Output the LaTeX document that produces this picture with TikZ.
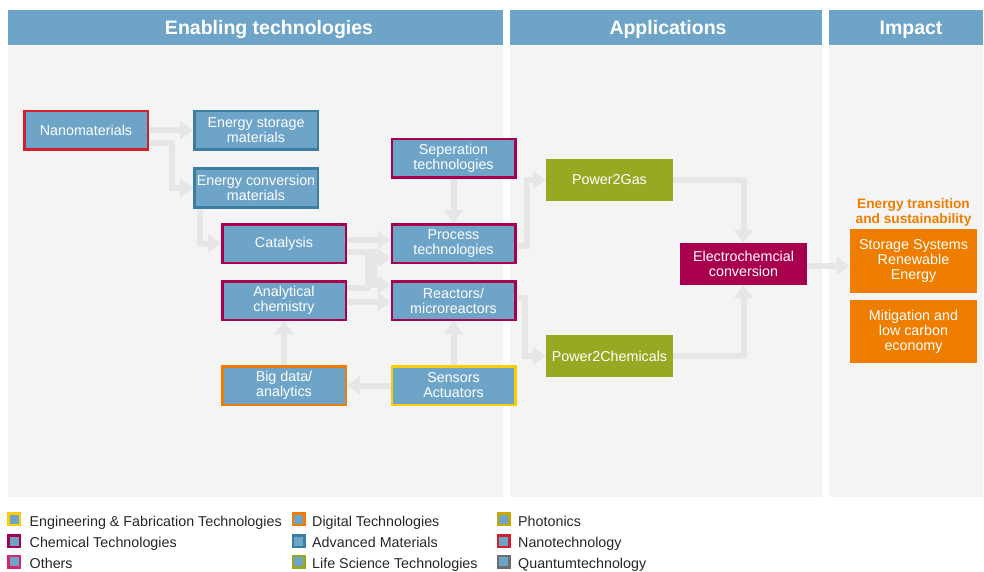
\documentclass[tikz,border=0pt]{standalone}
\usepackage{fontspec}
\setmainfont{Liberation Sans}
\usetikzlibrary{arrows.meta}
\definecolor{techblue}{HTML}{6EA4C7}
\definecolor{panelgray}{HTML}{F4F4F4}
\definecolor{flowgray}{HTML}{E6E6E6}
\definecolor{advmat}{HTML}{3B7EA1}
\definecolor{chemtech}{HTML}{A8004F}
\definecolor{others}{HTML}{D62470}
\definecolor{digital}{HTML}{EE7D00}
\definecolor{engfab}{HTML}{FFCC00}
\definecolor{lifesci}{HTML}{97A823}
\definecolor{photonics}{HTML}{C9A700}
\definecolor{nanotech}{HTML}{D2202C}
\definecolor{quantum}{HTML}{6D6E71}
\begin{document}
\begin{tikzpicture}[x=1pt, y=-1pt, font=\fontsize{14.3}{15}\selectfont,
  tech node/.style={rectangle,draw,line width=2.5pt,fill=techblue,text=white,align=center,minimum width=123.5pt,minimum height=38.5pt,inner sep=0pt},
  app node/.style={rectangle,fill=lifesci,text=white,align=center,minimum width=127pt,minimum height=42pt,inner sep=0pt},
  impact node/.style={rectangle,fill=digital,text=white,align=center,minimum width=127pt,minimum height=63pt,inner sep=0pt},
  head/.style={anchor=base,text=white,font=\fontsize{19.5}{20}\selectfont\bfseries},
  key/.style={rectangle,draw,line width=2.5pt,fill=techblue,minimum size=11.5pt,inner sep=0pt},
  flow/.style={draw=flowgray,line width=6pt,-{Triangle[width=18pt,length=13pt]}}]%
\useasboundingbox (0,0) rectangle (984,572);
\fill[techblue] (8,10) rectangle (503,45);
\fill[techblue] (510,10) rectangle (822,45);
\fill[techblue] (829,10) rectangle (983,45);
\fill[panelgray] (8,46) rectangle (503,497);
\fill[panelgray] (510,46) rectangle (822,497);
\fill[panelgray] (829,46) rectangle (983,497);
\node[head] (h1) at (269,35) {Enabling technologies};
\node[head] (h2) at (668,35) {Applications};
\node[head] (h3) at (911,35) {Impact};
\begin{scope}[every node/.style={tech node}]
\node[draw=nanotech] (nano) at (86,130.5) {Nanomaterials};
\node[draw=advmat] (estor) at (256,130.5) {Energy storage\\materials};
\node[draw=advmat] (econv) at (256,188) {Energy conversion\\materials};
\node[draw=chemtech] (cata) at (284,243.5) {Catalysis};
\node[draw=chemtech] (anal) at (284,300.5) {Analytical\\chemistry};
\node[draw=digital] (bigd) at (284,385.5) {Big data/\\analytics};
\node[draw=chemtech] (sep) at (453.5,158.5) {Seperation\\technologies};
\node[draw=chemtech] (proc) at (453.5,243.5) {Process\\technologies};
\node[draw=chemtech] (reac) at (453.5,300.5) {Reactors/\\microreactors};
\node[draw=engfab] (sens) at (453.5,385.5) {Sensors\\Actuators};
\end{scope}
\node[app node] (p2g) at (609.5,180) {Power2Gas};
\node[app node] (p2c) at (609.5,356) {Power2Chemicals};
\node[app node,fill=chemtech] (elec) at (743.5,264) {Electrochemcial\\conversion};
\node[text=digital,align=center,font=\fontsize{13.7}{15}\selectfont\bfseries] (trans) at (913.5,212.5) {Energy transition\\and sustainability};
\node[impact node,minimum height=64pt] (stor) at (913.5,261) {Storage Systems\\Renewable\\Energy};
\node[impact node] (miti) at (913.5,331.5) {Mitigation and\\low carbon\\economy};
\begin{scope}[every edge/.style={flow}]
\draw (nano) edge (estor);
\draw (sep) edge (proc);
\draw (sens) edge (reac);
\draw (sens) edge (bigd);
\draw (bigd) edge (anal);
\end{scope}
\draw[flow] ([yshift=-12.5pt]nano.east) -| ([xshift=-21pt]econv.west) -- (econv.west);
\draw[flow] ([xshift=-56pt]econv.south) |- (cata.west);
\draw[flow] ([yshift=3.5pt]cata.east) -- ([yshift=3.5pt]proc.west);
\draw[flow] ([yshift=-8pt]cata.east) -| ([xshift=-17pt,yshift=15.5pt]reac.west) -- ([yshift=15.5pt]reac.west);
\draw[flow] ([yshift=12.5pt]anal.east) -| ([xshift=-23pt,yshift=-14.5pt]proc.west) -- ([yshift=-14.5pt]proc.west);
\draw[flow] ([yshift=-1.5pt]anal.east) -- ([yshift=-1.5pt]reac.west);
\draw[flow] ([yshift=-2pt]proc.east) -| ([xshift=-19pt]p2g.west) -- (p2g.west);
\draw[flow] ([yshift=2.5pt]reac.east) -| ([xshift=-21pt]p2c.west) -- (p2c.west);
\draw[flow] (p2g.east) -| (elec.north);
\draw[flow] (p2c.east) -| (elec.south);
\draw[flow] ([yshift=-2pt]elec.east) -- ([yshift=-2pt]elec.east -| stor.west);
\begin{scope}[every node/.style={key}]
\node[draw=engfab] (k1) at (14,519) {};
\node[draw=chemtech] (k2) at (14,541) {};
\node[draw=others] (k3) at (14,561.5) {};
\node[draw=digital] (k4) at (298.5,519) {};
\node[draw=advmat] (k5) at (298.5,541) {};
\node[draw=lifesci] (k6) at (298.5,561.5) {};
\node[draw=photonics] (k7) at (503.5,519) {};
\node[draw=nanotech] (k8) at (503.5,541) {};
\node[draw=quantum] (k9) at (503.5,561.5) {};
\end{scope}
\begin{scope}[every node/.style={anchor=base west,inner sep=0pt,text=black!85}]
\node (t1) at (29.5,526) {Engineering \& Fabrication Technologies};
\node (t2) at (29.5,547.5) {Chemical Technologies};
\node (t3) at (29.5,568.5) {Others};
\node (t4) at (312,526) {Digital Technologies};
\node (t5) at (312,547.5) {Advanced Materials};
\node (t6) at (312,568.5) {Life Science Technologies};
\node (t7) at (518,526) {Photonics};
\node (t8) at (518,547.5) {Nanotechnology};
\node (t9) at (518,568.5) {Quantumtechnology};
\end{scope}
\end{tikzpicture}
\end{document}
